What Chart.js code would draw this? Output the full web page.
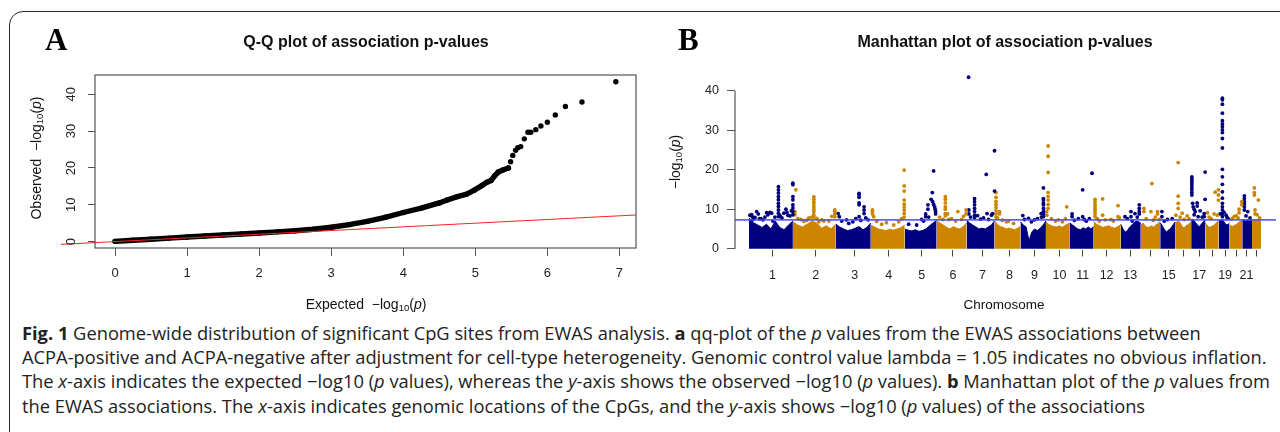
<!DOCTYPE html>
<html>
<head>
<meta charset="utf-8">
<script src="https://cdn.jsdelivr.net/npm/chart.js@4.4.1/dist/chart.umd.min.js"></script>
<style>
  html, body { margin: 0; padding: 0; background: #fff; width: 1280px; height: 432px; overflow: hidden; position: relative; }
  #frame { position: absolute; left: 9px; top: 11px; width: 1300px; height: 460px; border: 1.6px solid #2a2a2a; border-radius: 14px; box-sizing: border-box; }
  canvas { position: absolute; top: 0; }
  .lbl { position: absolute; font-family: "Liberation Sans", Arial, sans-serif; color: #111; white-space: nowrap; line-height: 1; }
  .panel { position: absolute; font-family: "Liberation Serif", "Times New Roman", serif; font-weight: bold; font-size: 31px; line-height: 1; color: #000; }
  .main { font-weight: bold; font-size: 16px; transform: translateX(-50%); }
  .axt { font-size: 14px; }
  .axt sub { font-size: 9.5px; vertical-align: -2px; }
  .rot { transform: translate(-50%, -50%) rotate(-90deg); }
  #caption { position: absolute; left: 22px; top: 321px; font-family: "Open Sans", "Noto Sans", sans-serif; font-size: 18.3px; line-height: 24.2px; color: #222; white-space: nowrap; }
  #caption b { font-weight: bold; }
</style>
</head>
<body>
<div id="frame"></div>
<canvas id="qq" width="660" height="320" style="left:0"></canvas>
<canvas id="mh" width="620" height="320" style="left:660px"></canvas>

<div class="panel" style="left:45px; top:24px">A</div>
<div class="panel" style="left:678px; top:24px">B</div>
<div class="lbl main" style="left:366px; top:34px">Q-Q plot of association p-values</div>
<div class="lbl main" style="left:1005px; top:34px">Manhattan plot of association p-values</div>
<div class="lbl axt" style="left:366px; top:305px; transform:translate(-50%,-50%)">Expected&nbsp; &minus;log<sub>10</sub>(<i>p</i>)</div>
<div class="lbl axt rot" style="left:37px; top:158px">Observed&nbsp; &minus;log<sub>10</sub>(<i>p</i>)</div>
<div class="lbl axt rot" style="left:676px; top:162px">&minus;log<sub>10</sub>(<i>p</i>)</div>
<div class="lbl" style="left:1004px; top:305px; font-size:13.5px; transform:translate(-50%,-50%)">Chromosome</div>

<div id="caption">
<b>Fig. 1</b> Genome-wide distribution of significant CpG sites from EWAS analysis. <b>a</b> qq-plot of the <i>p</i> values from the EWAS associations between<br>
ACPA-positive and ACPA-negative after adjustment for cell-type heterogeneity. Genomic control value lambda = 1.05 indicates no obvious inflation.<br>
The <i>x</i>-axis indicates the expected &minus;log10 (<i>p</i> values), whereas the <i>y</i>-axis shows the observed &minus;log10 (<i>p</i> values). <b>b</b> Manhattan plot of the <i>p</i> values from<br>
the EWAS associations. The <i>x</i>-axis indicates genomic locations of the CpGs, and the <i>y</i>-axis shows &minus;log10 (<i>p</i> values) of the associations
</div>

<script>
// ---- Q-Q plot data (expected vs observed -log10 p) ----
const qqTickX = [0, 1, 2, 3, 4, 5, 6, 7];
const qqTickY = [0, 10, 20, 30, 40];
// dense part of the curve, read along the thick black band
const qqBandExp = [0, 0.25, 0.5, 0.75, 1.0, 1.25, 1.5, 1.75, 2.0, 2.25, 2.5, 2.75, 3.0, 3.25, 3.5, 3.75, 4.0, 4.25, 4.5, 4.61, 4.75, 4.88, 4.98, 5.09, 5.16, 5.22, 5.27, 5.32, 5.39, 5.46];
const qqBandObs = [0.05, 0.35, 0.65, 0.95, 1.25, 1.5, 1.8, 2.05, 2.35, 2.65, 2.95, 3.35, 3.9, 4.6, 5.5, 6.6, 7.9, 9.1, 10.5, 11.3, 12.2, 12.9, 13.9, 15.2, 16.1, 16.6, 17.9, 18.9, 19.5, 20.0];
// separate dots in the upper tail
const qqTailExp = [5.49, 5.52, 5.56, 5.59, 5.63, 5.68, 5.73, 5.77, 5.84, 5.91, 6.0, 6.11, 6.25, 6.48, 6.95];
const qqTailObs = [21.7, 23.4, 24.8, 25.5, 25.8, 27.9, 29.7, 29.7, 30.4, 31.4, 32.4, 34.4, 36.7, 37.9, 43.4];
const qqNullEnds = [-0.75, 7.23];   // y = x reference line

// ---- Manhattan plot data (positions in plot units along the genome) ----
const chrLabels = ['1', '2', '3', '4', '5', '6', '7', '8', '9', '10', '11', '12', '13', '', '15', '', '17', '', '19', '', '21', ''];
const chrStart = [0, 44, 87, 122, 156, 188, 218, 246, 272, 297.5, 321.5, 345.3, 372.5, 392.5, 412, 427, 443, 457.3, 470.6, 481.4, 494.2, 504];
const chrEnd = [44, 87, 122, 156, 188, 218, 246, 272, 297.5, 321.5, 345.3, 372.5, 392.5, 412, 427, 443, 457.3, 470.6, 481.4, 494.2, 504, 513];
const chrTick = [23.5, 67, 106, 140, 173, 204.3, 234, 261, 286, 311, 334.4, 358.3, 382, 402, 420.5, 435.5, 451, 464.5, 477, 488, 498.5, 508];
// top of the dense cloud of CpGs, evenly spaced across each chromosome
const chrFloor = [
  [7.8, 6.6, 6.0, 5.4, 6.2, 5.0, 7.0, 5.4, 4.8, 6.0, 7.0],
  [6.8, 6.0, 5.5, 6.2, 7.0, 6.5, 5.2, 5.8, 5.0, 6.2],
  [6.2, 5.5, 5.0, 4.6, 4.8, 5.2, 5.6, 4.8, 5.4, 6.5],
  [6.0, 5.5, 5.0, 4.8, 4.6, 4.9, 4.7, 5.0, 5.3, 6.0],
  [5.0, 4.7, 4.5, 4.8, 4.4, 4.6, 5.0, 5.8, 6.5, 7.2],
  [7.0, 6.5, 6.0, 5.4, 5.0, 5.6, 5.2, 5.0, 5.6, 6.5],
  [7.2, 6.5, 6.0, 5.5, 5.0, 5.2, 5.0, 5.5, 6.0, 7.0],
  [7.0, 6.2, 5.6, 5.4, 5.0, 5.2, 5.0, 4.8, 5.2, 5.6],
  [6.8, 6.0, 5.5, 2.0, 4.2, 5.0, 4.6, 5.2, 6.0, 7.0],
  [6.8, 6.2, 5.8, 5.6, 5.5, 5.8, 5.4, 5.8, 6.2, 6.5],
  [6.5, 6.0, 5.5, 5.0, 4.8, 5.3, 5.0, 5.5, 5.0, 5.6],
  [6.8, 6.2, 5.8, 5.4, 5.6, 5.8, 5.4, 5.2, 5.6, 6.0],
  [6.2, 5.0, 4.2, 4.6, 5.5, 6.0, 6.6, 7.0, 6.8, 6.5],
  [6.0, 6.5, 5.8, 5.4, 5.5, 5.8, 5.5, 6.0, 6.4, 6.8],
  [6.6, 6.0, 5.2, 4.6, 4.2, 4.8, 5.0, 5.6, 6.2, 6.8],
  [6.5, 6.8, 7.0, 6.4, 5.6, 5.2, 5.8, 6.0, 6.4, 6.8],
  [7.2, 7.5, 7.0, 6.5, 6.0, 5.6, 6.0, 6.5, 7.0, 7.2],
  [6.5, 6.0, 5.6, 5.4, 5.6, 5.8, 6.0, 6.4, 6.8, 7.0],
  [7.2, 7.0, 7.2, 7.4, 7.0, 6.5, 6.2, 6.0, 6.2, 6.5],
  [6.0, 5.8, 5.6, 5.8, 6.0, 6.2, 6.5, 6.8, 7.0, 7.2],
  [7.2, 7.3, 7.2, 7.0, 7.2, 7.3, 7.2, 7.0, 7.2, 7.3],
  [7.0, 7.2, 7.3, 7.2, 7.0, 7.2, 7.3, 7.2, 7.0, 7.0]
];
// CpGs standing out above the cloud: [position, -log10 p]
const chrSpikes = [
  [[1, 8.5], [2.7, 8.6], [3, 8.2], [4, 7.4], [6, 7.9], [7.7, 9.4], [9.3, 8.8], [10.5, 7.6], [12, 7.6], [14, 7.3], [16, 8.0], [17.7, 9.1], [19, 8.6], [21, 9.2], [22.7, 9.0], [24, 7.0], [26, 8.0], [29.5, 15.7], [29.5, 14.9], [29.5, 14.1], [29.5, 13.2], [29.5, 12.4], [29.5, 11.5], [29.5, 10.7], [29.5, 9.8], [29.5, 9.0], [29.5, 8.1], [31, 8.4], [33, 7.8], [35, 9.0], [37, 10.0], [38, 9.2], [39, 8.5], [41, 8.3], [42.5, 9.6], [44, 16.6], [44, 16.2], [44, 13.2], [44, 12.4], [44, 11.1], [44, 10.3], [44, 9.4], [44, 8.6]],
  [[46, 9.4], [46, 8.6], [47, 14.9], [49, 7.6], [52, 7.4], [55, 6.9], [58, 7.2], [60, 7.8], [63, 8.0], [65, 13.1], [65, 12.5], [65, 11.9], [65, 11.4], [65, 10.7], [65, 10.0], [65, 9.4], [65, 8.6], [65, 8.0], [68, 7.7], [70, 6.8], [73, 7.3], [75, 7.0], [80, 7.0], [83, 8.2], [86, 9.8], [86, 9.4], [86, 8.8], [86, 8.1]],
  [[89.3, 8.9], [90.5, 8.1], [93, 7.0], [97.7, 7.3], [100, 6.4], [104, 6.8], [107, 7.6], [110.3, 14.0], [110.3, 13.6], [110.3, 13.0], [110.3, 11.6], [110.3, 11.1], [110.3, 8.1], [112, 7.2], [115.3, 10.6], [115.3, 9.8], [115.3, 8.9], [117, 7.8], [119.3, 7.3]],
  [[123.7, 9.8], [123.7, 9.4], [123.7, 8.8], [125, 8.1], [128, 6.9], [133, 6.2], [137.7, 6.6], [145, 6.0], [150, 6.8], [153, 7.6], [155.5, 19.9], [155.5, 15.9], [155.5, 14.6], [155.5, 12.3], [155.5, 11.3], [155.5, 10.6], [155.5, 9.8], [155.5, 8.9], [155.5, 8.0]],
  [[160, 6.2], [168, 6.0], [173, 7.4], [175, 7.0], [177, 8.8], [177, 8.1], [179.3, 11.1], [179.3, 10.0], [180, 8.0], [182.5, 12.5], [183.7, 14.2], [184, 11.9], [185, 19.7], [185, 11.2], [186, 10.6], [186.5, 10.0], [187, 9.4], [187, 8.8]],
  [[191, 8.0], [194.3, 7.4], [196.7, 13.2], [196.7, 12.5], [196.7, 11.6], [196.7, 10.6], [196.7, 10.0], [196.7, 8.9], [196.7, 8.3], [199, 8.8], [200.3, 7.4], [203, 7.6], [207, 7.0], [209.3, 9.4], [213, 7.4], [215, 8.2], [217.5, 9.8], [217.5, 8.8]],
  [[220, 43.4], [220.3, 9.8], [220.3, 8.8], [222, 8.0], [226, 12.7], [226, 11.9], [226, 11.1], [226, 10.2], [226, 9.4], [226, 8.5], [226, 7.9], [229, 8.4], [232, 7.5], [235, 7.8], [237.7, 18.8], [238.5, 8.9], [240, 7.4], [243, 8.5], [244, 8.9], [246, 24.8], [246, 14.6]],
  [[247.5, 14.2], [247.5, 13.0], [247.5, 12.0], [247.5, 11.2], [247.5, 10.4], [247.5, 9.6], [247.5, 8.8], [247.5, 8.0], [249, 7.8], [251, 9.4], [251, 8.8], [254, 7.2], [258, 6.8], [260, 7.0], [265, 6.4]],
  [[274.3, 8.4], [276, 7.4], [280, 7.7], [283, 6.8], [286, 7.3], [289, 7.6], [292.7, 8.9], [293, 8.0], [295, 15.4], [295, 12.7], [295, 12.3], [295, 11.6], [295, 11.1], [295, 10.2], [295, 9.4], [295, 8.8], [295, 8.1]],
  [[298.3, 9.4], [298.3, 8.5], [299.7, 26.0], [299.7, 23.4], [299.7, 19.3], [299.7, 14.2], [299.7, 13.2], [299.7, 12.3], [299.7, 11.2], [299.7, 10.2], [303, 7.6], [307, 7.0], [310, 7.3], [314, 6.8], [317, 7.6], [318.3, 10.6]],
  [[323.7, 8.8], [323.7, 8.1], [326, 7.2], [330, 7.6], [334.3, 14.9], [334.3, 8.1], [336, 7.4], [338, 7.0], [341, 7.6], [343.7, 19.1]],
  [[346.7, 12.5], [346.7, 11.9], [346.7, 11.2], [346.7, 10.6], [346.7, 10.0], [346.7, 9.4], [346.7, 8.8], [346.7, 8.1], [349, 7.6], [351, 7.0], [354.3, 12.6], [354.3, 8.5], [357, 7.3], [362.7, 7.4], [365, 7.0], [369.7, 10.9], [369.7, 8.1], [371, 7.8]],
  [[376.7, 8.1], [379, 7.6], [382.7, 9.4], [382.7, 8.1], [384, 7.0], [386.7, 8.9], [389, 8.0], [391, 11.1], [391, 10.2], [391, 9.4], [391, 8.8]],
  [[395.7, 10.2], [395.7, 9.4], [398, 7.6], [402.7, 9.4], [403.7, 16.5], [405, 7.2], [407, 8.0], [409.3, 9.4], [409.3, 8.8], [411, 7.4]],
  [[413.7, 9.4], [413.7, 8.1], [416, 7.0], [419.3, 7.4], [424, 7.6]],
  [[427.7, 8.5], [430, 21.8], [430, 13.3], [430, 11.5], [430, 10.2], [432, 8.0], [434, 9.0], [436, 7.4], [439, 8.3], [441, 7.6]],
  [[443.7, 18.2], [443.7, 17.7], [443.7, 17.2], [443.7, 16.7], [443.7, 16.1], [443.7, 15.5], [443.7, 14.9], [443.7, 14.2], [443.7, 13.6], [444.5, 11.5], [445, 10.6], [446, 10.0], [446, 8.6], [447, 9.4], [449, 11.6], [449, 10.8], [450, 8.1], [452, 9.6], [454, 8.0], [456, 8.9], [456, 8.1], [457, 19.4], [457, 12.5]],
  [[459.3, 9.1], [461, 8.0], [463, 7.6], [466, 8.8], [467, 14.3], [469.3, 8.5], [470.3, 14.9], [470.3, 13.6], [470.3, 12.3]],
  [[472, 8.8], [474.3, 38.1], [474.3, 37.7], [474.3, 36.6], [474.3, 34.3], [474.3, 32.4], [474.3, 31.6], [474.3, 30.9], [474.3, 30.1], [474.3, 29.4], [474.3, 27.9], [474.3, 25.5], [474.3, 20.1], [474.3, 18.2], [474.3, 16.3], [474.3, 14.4], [474.3, 12.8], [474.3, 11.5], [474.3, 10.6], [474.3, 9.8], [474.3, 8.9], [474.3, 8.1], [476, 9.2], [478, 8.5], [479, 7.9], [480, 7.6]],
  [[484, 7.6], [486, 8.1], [488, 8.4], [490, 7.8], [491, 10.0], [491, 9.1], [493.7, 11.9], [493.7, 11.1]],
  [[496.3, 13.4], [496.3, 12.7], [496.3, 11.9], [496.3, 11.3], [496.3, 10.6], [496.3, 9.8], [498, 8.3], [499.7, 9.4], [502, 7.8]],
  [[506.3, 15.4], [506.3, 14.2], [506.3, 13.6], [507, 9.8], [507, 8.8], [509, 8.6], [510.3, 12.3], [511.5, 7.8]]
];
const mhTickY = [0, 10, 20, 30, 40];
const gwsThreshold = 7.3;
const mhRange = [-14, 528];

const FONT = '"Liberation Sans", Arial, sans-serif';
const NAVY = '#00007f';
const GOLD = '#cd8500';

// ---------- Q-Q chart ----------
const qqBox = {
  id: 'qqBox',
  afterDraw(chart) {
    const { ctx, chartArea: a } = chart;
    const y = chart.scales.y;
    ctx.save();
    ctx.strokeStyle = '#555';
    ctx.lineWidth = 1.2;
    ctx.strokeRect(a.left, a.top, a.right - a.left, a.bottom - a.top);
    ctx.fillStyle = '#222';
    ctx.font = '13px ' + FONT;
    ctx.textAlign = 'center';
    ctx.textBaseline = 'middle';
    qqTickY.forEach(v => {
      ctx.save();
      ctx.translate(a.left - 23.5, y.getPixelForValue(v));
      ctx.rotate(-Math.PI / 2);
      ctx.fillText(String(v), 0, 0);
      ctx.restore();
    });
    ctx.restore();
  }
};

new Chart(document.getElementById('qq'), {
  type: 'scatter',
  data: {
    datasets: [
      {
        data: qqNullEnds.map(v => ({ x: v, y: v })),
        showLine: true, borderColor: '#ff2020', borderWidth: 1, pointRadius: 0, clip: false
      },
      {
        data: qqTailExp.map((x, i) => ({ x, y: qqTailObs[i] })),
        pointRadius: 2.7, backgroundColor: '#000', borderWidth: 0
      },
      {
        data: qqBandExp.map((x, i) => ({ x, y: qqBandObs[i] })),
        showLine: true, borderColor: '#000', borderWidth: 5.4, borderCapStyle: 'round', borderJoinStyle: 'round',
        pointRadius: 2.7, backgroundColor: '#000', pointBorderWidth: 0
      }
    ]
  },
  options: {
    responsive: false, animation: false, devicePixelRatio: 1,
    layout: { padding: { left: 0, top: 75, right: 24, bottom: 0 } },
    plugins: { legend: { display: false }, tooltip: { enabled: false } },
    scales: {
      x: {
        type: 'linear', min: -0.278, max: 7.23,
        afterBuildTicks: s => { s.ticks = qqTickX.map(v => ({ value: v })); },
        afterFit: s => { s.height = 72; },
        ticks: { font: { family: FONT, size: 13 }, color: '#222', padding: 10, maxRotation: 0, autoSkip: false },
        grid: { drawOnChartArea: false, tickLength: 8, color: '#555', tickWidth: 1 },
        border: { display: false }
      },
      y: {
        type: 'linear', min: -1.74, max: 45.24,
        afterBuildTicks: s => { s.ticks = qqTickY.map(v => ({ value: v })); },
        afterFit: s => { s.width = 95; },
        ticks: { display: false },
        grid: { drawOnChartArea: false, tickLength: 7, color: '#555' },
        border: { display: false }
      }
    }
  },
  plugins: [qqBox]
});

// ---------- Manhattan chart ----------
const mhAxis = {
  id: 'mhAxis',
  afterDraw(chart) {
    const { ctx, chartArea: a } = chart;
    const y = chart.scales.y;
    ctx.save();
    ctx.strokeStyle = '#555';
    ctx.lineWidth = 1.2;
    ctx.beginPath();
    ctx.moveTo(a.left, y.getPixelForValue(mhTickY[0]));
    ctx.lineTo(a.left, y.getPixelForValue(mhTickY[mhTickY.length - 1]));
    ctx.stroke();
    ctx.restore();
  }
};

const spikeSets = chrSpikes.map((pts, i) => ({
  data: pts.map(([x, y]) => ({ x, y })),
  pointRadius: 1.9, backgroundColor: i % 2 ? GOLD : NAVY, borderWidth: 0
}));
const floorSets = chrFloor.map((vals, i) => ({
  data: vals.map((v, k) => ({ x: chrStart[i] + (chrEnd[i] - chrStart[i]) * k / (vals.length - 1), y: v })),
  showLine: true, fill: 'origin', pointRadius: 0, borderWidth: 1,
  borderColor: i % 2 ? GOLD : NAVY, backgroundColor: i % 2 ? GOLD : NAVY
}));

new Chart(document.getElementById('mh'), {
  type: 'scatter',
  data: {
    datasets: [
      {
        data: mhRange.map(x => ({ x, y: gwsThreshold })),
        showLine: true, borderColor: 'rgba(70,70,255,0.85)', borderWidth: 1.6, pointRadius: 0
      },
      ...spikeSets,
      ...floorSets
    ]
  },
  options: {
    responsive: false, animation: false, devicePixelRatio: 1,
    layout: { padding: { left: 0, top: 70, right: 3, bottom: 0 } },
    plugins: { legend: { display: false }, tooltip: { enabled: false } },
    scales: {
      x: {
        type: 'linear', min: mhRange[0], max: mhRange[1],
        afterBuildTicks: s => { s.ticks = chrTick.map(v => ({ value: v })); },
        afterFit: s => { s.height = 70.5; },
        ticks: { callback: (v, i) => chrLabels[i], font: { family: FONT, size: 12.5 }, color: '#222', padding: 12, maxRotation: 0, minRotation: 0, autoSkip: false },
        grid: { drawOnChartArea: false, tickLength: 7, color: '#444' },
        border: { display: false }
      },
      y: {
        type: 'linear', min: -0.2, max: 45.24,
        afterBuildTicks: s => { s.ticks = mhTickY.map(v => ({ value: v })); },
        afterFit: s => { s.width = 75; },
        ticks: { font: { family: FONT, size: 12.5 }, color: '#222', padding: 8 },
        grid: { drawOnChartArea: false, tickLength: 8, color: '#555' },
        border: { display: false }
      }
    }
  },
  plugins: [mhAxis]
});
</script>
</body>
</html>
